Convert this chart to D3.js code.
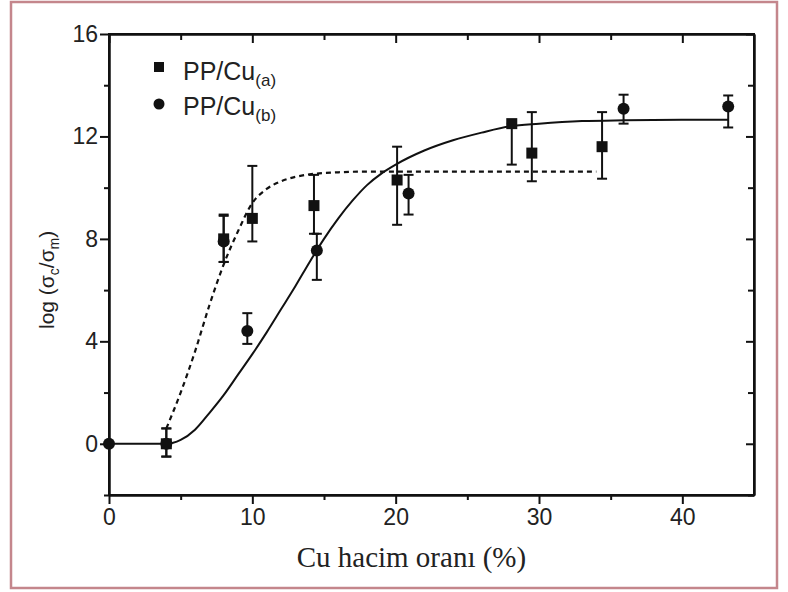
<!DOCTYPE html>
<html>
<head>
<meta charset="utf-8">
<script src="https://cdn.jsdelivr.net/npm/d3@7"></script>
<style>
  body { margin: 0; background: #fff; }
  #chart { width: 788px; height: 592px; }
  .axis text { font-family: "Liberation Sans", Arial, sans-serif; font-size: 23px; fill: #222; }
  .axis path, .axis line { stroke: #111; stroke-width: 2; }
</style>
</head>
<body>
<div id="chart"></div>
<script>

// DATA
let xTicks = [0, 10, 20, 30, 40];
let yTicks = [0, 4, 8, 12, 16];

// PP/Cu(a) - squares
let sqX  = [4, 8, 10, 14.3, 20.1, 28.1, 29.5, 34.4];
let sqY  = [0, 8.0, 8.8, 9.3, 10.3, 12.5, 11.35, 11.6];
let sqLo = [-0.5, 7.1, 7.9, 8.2, 8.55, 10.9, 10.25, 10.35];
let sqHi = [0.6, 8.95, 10.85, 10.5, 11.6, 12.5, 12.95, 12.95];

// PP/Cu(b) - circles
let ciX  = [0, 4, 8, 9.65, 14.5, 20.9, 35.9, 43.2];
let ciY  = [0, 0, 7.9, 4.4, 7.55, 9.77, 13.08, 13.17];
let ciLo = [0, -0.5, 7.1, 3.9, 6.4, 8.95, 12.5, 12.35];
let ciHi = [0, 0.6, 8.9, 5.1, 8.2, 10.5, 13.63, 13.6];

// fitted curves, points
let solidX = [0, 4, 5, 6, 7, 8, 9, 10, 11, 12, 13, 14, 15, 16, 17, 18, 19, 20, 22, 24, 26, 28, 30, 33, 36, 40, 43.2];
let solidY = [0, 0, 0.15, 0.55, 1.2, 1.9, 2.7, 3.5, 4.35, 5.25, 6.15, 7.1, 8.0, 8.8, 9.5, 10.1, 10.55, 10.9, 11.45, 11.85, 12.15, 12.4, 12.5, 12.6, 12.63, 12.65, 12.65];
let dashX  = [4, 5, 6, 7, 8, 9, 10, 11, 12, 13, 14, 16, 18, 22, 34];
let dashY  = [0.6, 2.0, 3.6, 5.4, 7.0, 8.3, 9.4, 9.95, 10.25, 10.42, 10.52, 10.6, 10.63, 10.63, 10.63];

// CHART AREA
let margin = {top: 34, right: 34, bottom: 97, left: 109},
    width = 788 - margin.left - margin.right,
    height = 592 - margin.top - margin.bottom;

let root = d3.select("#chart").append("svg")
    .attr("width", 788)
    .attr("height", 592);

// outer rose frame
root.append("rect")
    .attr("x", 11).attr("y", 2)
    .attr("width", 766).attr("height", 586)
    .attr("fill", "none")
    .attr("stroke", "#c4868c")
    .attr("stroke-width", 2.5);

let svg = root.append("g")
    .attr("transform", "translate(" + margin.left + "," + margin.top + ")");

// SCALES
let x = d3.scaleLinear().domain([0, 45]).range([0, width]);
let y = d3.scaleLinear().domain([-2, 16]).range([height, 0]);

// AXES - majors outside on left/bottom, mirrored inside on top/right
svg.append("g")
    .attr("class", "axis")
    .attr("transform", "translate(0," + height + ")")
    .call(d3.axisBottom(x).tickValues(xTicks).tickSize(9).tickSizeOuter(0).tickPadding(5));
svg.append("g")
    .attr("class", "axis")
    .attr("transform", "translate(0," + height + ")")
    .call(d3.axisBottom(x).tickValues([5, 15, 25, 35]).tickSize(5).tickSizeOuter(0).tickFormat(""));

svg.append("g")
    .attr("class", "axis")
    .call(d3.axisLeft(y).tickValues(yTicks).tickSize(9).tickSizeOuter(0).tickPadding(2));
svg.append("g")
    .attr("class", "axis")
    .call(d3.axisLeft(y).tickValues([-2, 2, 6, 10, 14]).tickSize(5).tickSizeOuter(0).tickFormat(""));

svg.append("g")
    .attr("class", "axis")
    .call(d3.axisBottom(x).tickValues(xTicks).tickSize(9).tickSizeOuter(0).tickFormat(""));
svg.append("g")
    .attr("class", "axis")
    .call(d3.axisBottom(x).tickValues([5, 15, 25, 35]).tickSize(6).tickSizeOuter(0).tickFormat(""));

svg.append("g")
    .attr("class", "axis")
    .attr("transform", "translate(" + width + ",0)")
    .call(d3.axisLeft(y).tickValues(yTicks).tickSize(8).tickSizeOuter(0).tickFormat(""));
svg.append("g")
    .attr("class", "axis")
    .attr("transform", "translate(" + width + ",0)")
    .call(d3.axisLeft(y).tickValues([-2, 2, 6, 10, 14]).tickSize(6).tickSizeOuter(0).tickFormat(""));

// frame
svg.append("rect")
    .attr("width", width).attr("height", height)
    .attr("fill", "none").attr("stroke", "#111").attr("stroke-width", 2);

// CURVES
let line = d3.line()
    .x(d => x(d[0]))
    .y(d => y(d[1]))
    .curve(d3.curveMonotoneX);

svg.append("path")
    .datum(solidX.map((v, i) => [v, solidY[i]]))
    .attr("d", line)
    .attr("fill", "none").attr("stroke", "#111").attr("stroke-width", 2);

svg.append("path")
    .datum(dashX.map((v, i) => [v, dashY[i]]))
    .attr("d", line)
    .attr("fill", "none").attr("stroke", "#111").attr("stroke-width", 2.2)
    .attr("stroke-dasharray", "5,4");

// ERROR BARS
function errorBars(xs, ys, lo, hi) {
    let data = xs.map((v, i) => ({x: v, y: ys[i], lo: lo[i], hi: hi[i]})).filter(d => d.hi > d.lo);
    let g = svg.append("g").attr("stroke", "#111").attr("stroke-width", 2);
    g.selectAll(".stem").data(data).enter().append("line")
        .attr("x1", d => x(d.x)).attr("x2", d => x(d.x))
        .attr("y1", d => y(d.lo)).attr("y2", d => y(d.hi));
    g.selectAll(".capLo").data(data).enter().append("line")
        .attr("x1", d => x(d.x) - 5).attr("x2", d => x(d.x) + 5)
        .attr("y1", d => y(d.lo)).attr("y2", d => y(d.lo));
    g.selectAll(".capHi").data(data).enter().append("line")
        .attr("x1", d => x(d.x) - 5).attr("x2", d => x(d.x) + 5)
        .attr("y1", d => y(d.hi)).attr("y2", d => y(d.hi));
}
errorBars(sqX, sqY, sqLo, sqHi);
errorBars(ciX, ciY, ciLo, ciHi);

// MARKERS
svg.selectAll(".sq")
    .data(sqX.map((v, i) => [v, sqY[i]]))
    .enter().append("rect")
    .attr("x", d => x(d[0]) - 5.5)
    .attr("y", d => y(d[1]) - 5.5)
    .attr("width", 11).attr("height", 11)
    .attr("fill", "#111");

svg.selectAll(".ci")
    .data(ciX.map((v, i) => [v, ciY[i]]))
    .enter().append("circle")
    .attr("cx", d => x(d[0]))
    .attr("cy", d => y(d[1]))
    .attr("r", 6)
    .attr("fill", "#111");

// LEGEND
let legend = svg.append("g").attr("transform", "translate(50,33)");
legend.append("rect").attr("x", -5).attr("y", -5).attr("width", 10).attr("height", 10).attr("fill", "#111");
legend.append("circle").attr("cx", 0).attr("cy", 37).attr("r", 5.5).attr("fill", "#111");

let lt = legend.append("text")
    .attr("x", 24).attr("y", 13)
    .style("font-family", "'Liberation Sans', Arial, sans-serif")
    .style("font-size", "25px").attr("fill", "#222");
lt.append("tspan").text("PP/Cu");
lt.append("tspan").attr("dy", 6).style("font-size", "17px").text("(a)");

let lt2 = legend.append("text")
    .attr("x", 24).attr("y", 48)
    .style("font-family", "'Liberation Sans', Arial, sans-serif")
    .style("font-size", "25px").attr("fill", "#222");
lt2.append("tspan").text("PP/Cu");
lt2.append("tspan").attr("dy", 6).style("font-size", "17px").text("(b)");

// AXIS TITLES
svg.append("text")
    .attr("x", x(21.1)).attr("y", height + 72)
    .attr("text-anchor", "middle")
    .style("font-family", "'Liberation Serif', 'Times New Roman', serif")
    .style("font-size", "29px").attr("fill", "#222")
    .text("Cu hacim oranı (%)");

let yt = svg.append("text")
    .attr("transform", "translate(-55," + y(6.4) + ") rotate(-90)")
    .attr("text-anchor", "middle")
    .style("font-family", "'Liberation Sans', Arial, sans-serif")
    .style("font-size", "21px").attr("fill", "#222");
yt.append("tspan").text("log (σ");
yt.append("tspan").attr("dy", 5).style("font-size", "14px").text("c");
yt.append("tspan").attr("dy", -5).text("/σ");
yt.append("tspan").attr("dy", 5).style("font-size", "14px").text("m");
yt.append("tspan").attr("dy", -5).text(")");

</script>
</body>
</html>
